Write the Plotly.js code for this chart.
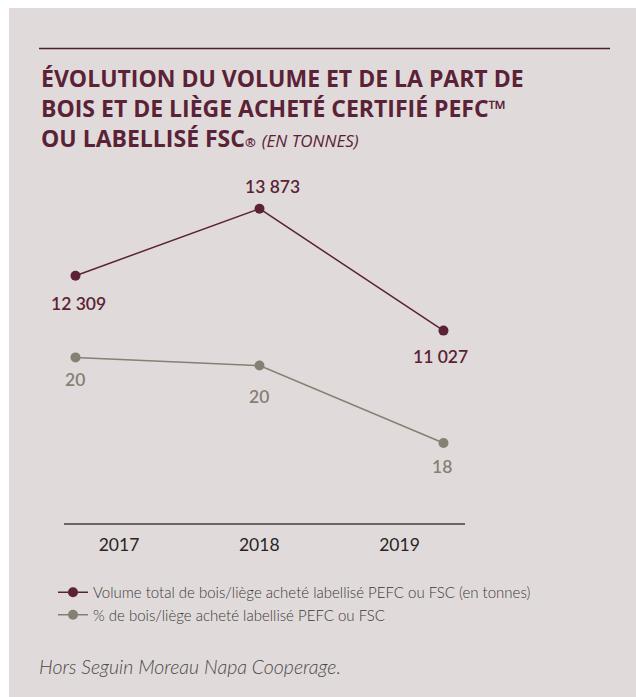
<!DOCTYPE html>
<html>
<head>
<meta charset="utf-8">
<script src="https://cdn.plot.ly/plotly-3.0.1.min.js"></script>
<style>
  html, body { margin: 0; padding: 0; background: #ffffff; }
  #chart { width: 636px; height: 697px; }
</style>
</head>
<body>
<div id="chart"></div>
<script>
// --- data ---
const years = ['2017', '2018', '2019'];
const volumeTonnes = [12309, 13873, 11027];
const sharePct = [20.1, 19.9, 18.0];
const seriesNames = [
    'Volume total de bois/liège acheté labellisé PEFC ou FSC (en tonnes)',
    '% de bois/liège acheté labellisé PEFC ou FSC'
];
const titleLines = [
    'ÉVOLUTION DU VOLUME ET DE LA PART DE',
    'BOIS ET DE LIÈGE ACHETÉ CERTIFIÉ PEFC™',
    'OU LABELLISÉ FSC<span style="font-size:13px">®</span>'
];
const titleUnit = '(EN TONNES)';
const footnote = 'Hors Seguin Moreau Napa Cooperage.';

// --- style ---
const W = 636, H = 697;
const maroon = '#5b2237';
const grey = '#877f73';
const bg = '#e0dbda';
const px = x => x / W;
const py = y => 1 - y / H;

// label offsets (pixels) per point
const volShift = [[3, -28], [13, 22], [-3, -26]];
const pctShift = [[-1, -22], [0, -31], [-1, -23]];

const fmt = v => String(Math.round(v)).replace(/\B(?=(\d{3})+(?!\d))/g, ' ');

const traces = [
    {
        x: years, y: volumeTonnes, name: seriesNames[0],
        type: 'scatter', mode: 'lines+markers',
        line: { color: maroon, width: 1.5 },
        marker: { color: maroon, size: 10 },
        hoverinfo: 'skip'
    },
    {
        x: years, y: sharePct, name: seriesNames[1], yaxis: 'y2',
        type: 'scatter', mode: 'lines+markers',
        line: { color: grey, width: 1.5 },
        marker: { color: grey, size: 10 },
        hoverinfo: 'skip'
    },
    {
        // carries the year axis (labels sit offset from the points)
        x: years, y: years.map(() => null), xaxis: 'x2',
        type: 'scatter', mode: 'markers', showlegend: false, hoverinfo: 'skip'
    }
];

const annotations = [];
// title as one block
annotations.push({
    xref: 'paper', yref: 'paper', x: px(39), y: py(60),
    xanchor: 'left', yanchor: 'top', align: 'left', showarrow: false,
    text: titleLines.join('<br>') +
        ' <span style="font-size:17px;font-weight:400"><i>' + titleUnit + '</i></span>',
    font: { family: 'Open Sans', size: 23, color: maroon, weight: 700 }
});
years.forEach((yr, i) => {
    annotations.push({
        xref: 'x', yref: 'y', x: i, y: volumeTonnes[i], showarrow: false,
        xshift: volShift[i][0], yshift: volShift[i][1],
        text: fmt(volumeTonnes[i]),
        font: { family: 'Lato', size: 17.5, color: maroon, weight: 600 }
    });
    annotations.push({
        xref: 'x', yref: 'y2', x: i, y: sharePct[i], showarrow: false,
        xshift: pctShift[i][0], yshift: pctShift[i][1],
        text: fmt(sharePct[i]),
        font: { family: 'Lato', size: 17.5, color: grey, weight: 600 }
    });
});
annotations.push({
    xref: 'paper', yref: 'paper', x: px(37), y: py(666),
    xanchor: 'left', yanchor: 'middle', showarrow: false,
    text: '<i>' + footnote + '</i>',
    font: { family: 'Lato', size: 19.5, color: '#4d4848', weight: 300 }
});

const plotDomainX = [px(64), px(465)];

const layout = {
    width: W, height: H,
    margin: { l: 0, r: 0, t: 0, b: 0 },
    paper_bgcolor: '#ffffff',
    plot_bgcolor: 'rgba(0,0,0,0)',
    showlegend: true,
    legend: {
        x: px(53), y: py(576), xanchor: 'left', yanchor: 'top',
        bgcolor: 'rgba(0,0,0,0)',
        font: { family: 'Lato', size: 15, color: '#3d3838', weight: 300 },
        tracegroupgap: 0
    },
    xaxis: {
        type: 'category', domain: plotDomainX, range: [-0.0625, 2.117],
        showticklabels: false, showgrid: false, zeroline: false, showline: false,
        fixedrange: true
    },
    xaxis2: {
        type: 'category', overlaying: 'x', anchor: 'y', side: 'bottom', domain: plotDomainX,
        range: [-0.392, 2.467],
        ticks: '', ticklabelstandoff: 5,
        tickfont: { family: 'Lato', size: 17.5, color: '#2a2424' },
        showline: true, linecolor: '#6b6563', linewidth: 1.5,
        showgrid: false, zeroline: false, fixedrange: true
    },
    yaxis: {
        domain: [py(523), py(180)], range: [6536, 14543],
        visible: false, fixedrange: true
    },
    yaxis2: {
        overlaying: 'y', range: [16.04, 24.45],
        visible: false, fixedrange: true
    },
    shapes: [
        {
            type: 'rect', xref: 'paper', yref: 'paper', layer: 'below',
            x0: px(9), x1: 1, y0: 0, y1: py(8),
            fillcolor: bg, line: { width: 0 }
        },
        {
            type: 'line', xref: 'paper', yref: 'paper',
            x0: px(39), x1: px(610), y0: py(48.5), y1: py(48.5),
            line: { color: '#4a1f2e', width: 1.5 }
        }
    ],
    annotations: annotations
};

Plotly.newPlot('chart', traces, layout, { displayModeBar: false, staticPlot: true });
</script>
</body>
</html>
